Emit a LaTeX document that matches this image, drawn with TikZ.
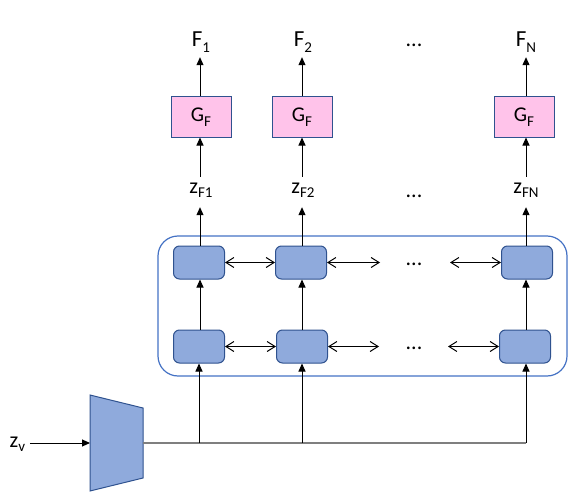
\documentclass[tikz,border=0pt]{standalone}
\usepackage{fontspec}
\setmainfont{Carlito}
\usetikzlibrary{arrows.meta}
\definecolor{bfill}{HTML}{8FAADC}
\definecolor{bborder}{HTML}{2F528F}
\definecolor{gpink}{HTML}{FFC3EA}
\definecolor{contblue}{HTML}{4472C4}
\definecolor{lineg}{HTML}{7F7F7F}
\newcommand\mysub[2][5pt]{\raisebox{-#1}{\fontsize{15}{15}\selectfont #2}}
\begin{document}
\begin{tikzpicture}[x=1pt,y=-1pt,
  tri/.style={-{Triangle[length=8pt,width=7pt]}, line width=1pt, black},
  barb/.style={{Straight Barb[length=8pt,width=10pt]}-{Straight Barb[length=8pt,width=10pt]}, line width=1pt},
  gbox/.style={draw=bborder, fill=gpink, minimum width=60pt, minimum height=40pt, inner sep=0pt, line width=1pt, font=\fontsize{21}{23}\selectfont},
  rbox/.style={draw=bborder, fill=bfill, rounded corners=6pt, minimum width=51pt, minimum height=33pt, line width=1pt},
  flab/.style={anchor=base, inner sep=0pt, text height=15pt, text depth=6pt, inner ysep=4pt, font=\fontsize{23}{25}\selectfont},
  zlab/.style={anchor=base, inner sep=0pt, text height=11pt, text depth=9pt, inner ysep=5pt, font=\fontsize{22}{24}\selectfont},
  dots/.style={anchor=base, inner sep=0pt, font=\fontsize{22}{24}\selectfont},
  container/.style={draw=contblue, line width=1.2pt, rounded corners=20pt},
  encoder/.style={draw=bborder, fill=bfill, line width=1pt},
  busline/.style={draw=lineg, line width=1.8pt}]
\useasboundingbox (0,0) rectangle (579,495);

% container
\draw[container] (158,236) rectangle (567,376);

% top labels
\node[flab] (f1) at (201,47) {F\mysub[6pt]{1}};
\node[flab] (f2) at (303,47) {F\mysub[6pt]{2}};
\node[dots] (fd) at (414,47) {...};
\node[flab] (f3) at (526,47) {F\mysub[6pt]{N}};

% G boxes
\node[gbox] (g1) at (201,117) {G\mysub[5pt]{F}};
\node[gbox] (g2) at (302,117) {G\mysub[5pt]{F}};
\node[gbox] (g3) at (524,117) {G\mysub[5pt]{F}};

% z labels
\node[zlab] (z1) at (201,193) {z\mysub[5pt]{F1}};
\node[zlab] (z2) at (303,193) {z\mysub[5pt]{F2}};
\node[dots] (zd) at (414,197) {...};
\node[zlab] (z3) at (526,193) {z\mysub[5pt]{FN}};

% RNN boxes
\node[rbox] (r1a) at (199,262.5) {};
\node[rbox] (r2a) at (301,262.5) {};
\node[rbox] (r3a) at (527,262.5) {};
\node[rbox] (r1b) at (199,346.5) {};
\node[rbox] (r2b) at (302,346.5) {};
\node[rbox] (r3b) at (525,346.5) {};
\node[dots] (da) at (414,265) {...};
\node[dots] (db) at (414,349) {...};
\coordinate (ra1) at (380,262.5);
\coordinate (ra2) at (450,262.5);
\coordinate (rb1) at (379,346.5);
\coordinate (rb2) at (448,346.5);

% column lines
\coordinate (c1) at (200,0);
\coordinate (c2) at (302,0);
\coordinate (c3) at (526,0);

% vertical arrows
\foreach \i in {1,2,3}{
  \draw[tri] (g\i.north -| c\i) -- (f\i.south -| c\i);
  \draw[tri] (z\i.north -| c\i) -- (g\i.south -| c\i);
  \draw[tri] (r\i a.north -| c\i) -- (z\i.south -| c\i);
  \draw[tri] (r\i b.north -| c\i) -- (r\i a.south -| c\i);
}

% horizontal bidirectional arrows
\draw[barb] (r1a.east) -- (r2a.west);
\draw[barb] (r2a.east) -- (ra1);
\draw[barb] (ra2) -- (r3a.west);
\draw[barb] (r1b.east) -- (r2b.west);
\draw[barb] (r2b.east) -- (rb1);
\draw[barb] (rb2) -- (r3b.west);

% encoder
\coordinate (encin) at (90,443);
\coordinate (encout) at (143,443);
\draw[encoder] (90,395) -- (143,408) -- (143,478) -- (90,491) -- cycle;
\node[anchor=base west, inner xsep=4.5pt, inner ysep=0pt, font=\fontsize{22}{24}\selectfont] (zv) at (5,447) {z\mysub[4pt]{v}};
\draw[tri] (zv.east |- encin) -- (encin);

% bus
\coordinate (j1) at (199,443);
\coordinate (j2) at (302,443);
\coordinate (j3) at (526,443);
\draw[busline] (encout) -- (j3);
\draw[tri] (j1) -- (r1b.south -| j1);
\draw[tri] (j2) -- (r2b.south -| j2);
\draw[tri] (j3) -- (r3b.south -| j3);
\end{tikzpicture}
\end{document}
